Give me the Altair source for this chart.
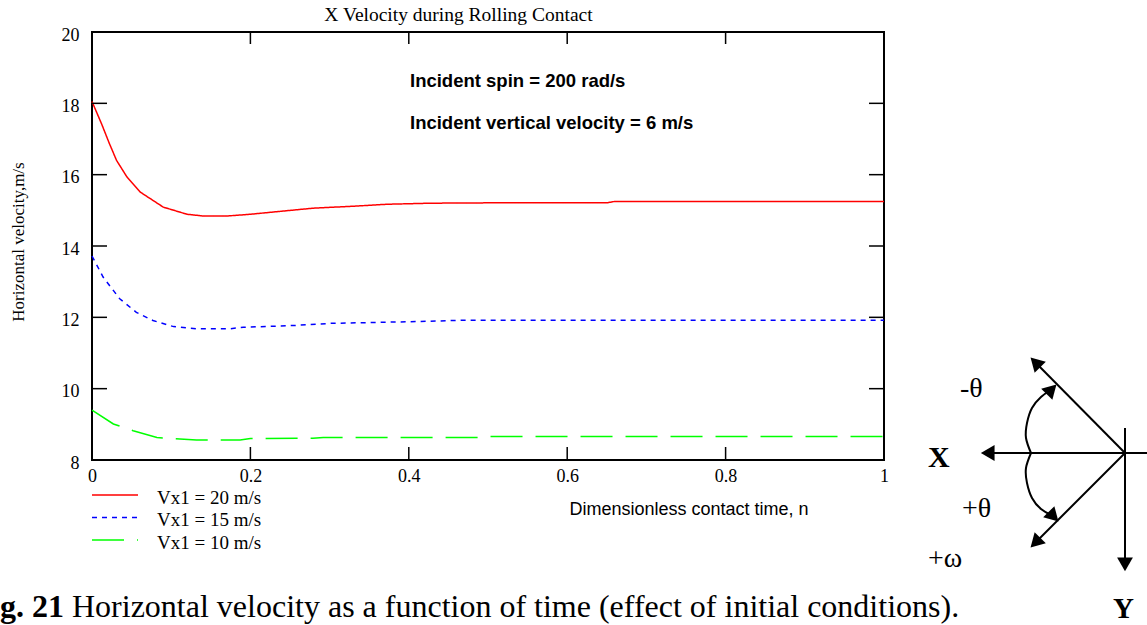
import altair as alt
import pandas as pd

W, H = 792, 428

# ---------------- data ----------------
red_x = [0, 0.012, 0.022, 0.031, 0.044, 0.061, 0.09, 0.12, 0.141, 0.17, 0.2, 0.237,
         0.279, 0.334, 0.372, 0.427, 0.5, 0.6, 0.65, 0.66, 0.8, 1.0]
red_y = [18.05, 17.43, 16.87, 16.40, 15.94, 15.51, 15.09, 14.89, 14.84, 14.84, 14.89,
         14.97, 15.06, 15.12, 15.17, 15.20, 15.21, 15.21, 15.21, 15.25, 15.25, 15.25]

blue_x = [0, 0.014, 0.035, 0.056, 0.077, 0.103, 0.132, 0.174, 0.191, 0.254, 0.30,
          0.427, 0.47, 0.6, 0.8, 1.0]
blue_y = [13.72, 13.13, 12.52, 12.14, 11.91, 11.74, 11.68, 11.68, 11.72, 11.77, 11.83,
          11.89, 11.92, 11.92, 11.92, 11.92]

green_x = [0, 0.027, 0.052, 0.082, 0.132, 0.187, 0.2, 0.279, 0.292, 0.49, 0.5, 1.0]
green_y = [9.40, 9.01, 8.82, 8.63, 8.56, 8.56, 8.60, 8.61, 8.63, 8.63, 8.66, 8.66]

series_names = ["Vx1 = 20 m/s", "Vx1 = 15 m/s", "Vx1 = 10 m/s"]
series_colors = ["#ff0000", "#0000ff", "#00ff00"]
series_dash = [[1, 0], [5, 5], [32, 13]]

x_ticks = [0, 0.2, 0.4, 0.6, 0.8, 1.0]
y_ticks = [8, 10, 12, 14, 16, 18, 20]

title_text = "X Velocity during Rolling Contact"
ytitle_text = "Horizontal velocity,m/s"
xtitle_text = "Dimensionless contact time, n"
annot_lines = ["Incident spin = 200 rad/s", "Incident vertical velocity = 6 m/s"]
caption_bold = "g. 21"
caption_rest = "Horizontal velocity as a function of time (effect of initial conditions)."

# diagram (coordinates relative to axis origin, in diagram units)
diag_seg = ["h", "h", "v", "v", "d1", "d1", "d2", "d2",
            "c1", "c1", "c1", "c1", "c1", "c1",
            "c2", "c2", "c2", "c2", "c2", "c2"]
diag_x = [-138, 22, 0, 0, 0, -90, 0, -90,
          -94, -99, -98, -93, -84, -76,
          -94, -99, -98, -93, -84, -74]
diag_y = [0, 0, -25, 110, 0, -91, 0, 90,
          0, -15, -30, -45, -56, -62,
          0, 15, 30, 45, 56, 62]
head_x = [-135, 0, -88, -88, -75, -73]
head_y = [0, 109, -89, 88, -62, 62]
head_angle = [270, 180, 315, 225, 45, 135]
dlabel_text = ["X", "Y", "-θ", "+θ", "+ω"]
dlabel_x = [-197, -12, -165, -163, -197]
dlabel_y = [14, 165, -56, 64, 114]
dlabel_weight = ["bold", "bold", "normal", "normal", "normal"]
dlabel_size = [30, 29, 28, 28, 28]

SERIF = "Liberation Serif"
SANS = "Liberation Sans"

xscale = alt.Scale(domain=[0, 1], nice=False, zero=False)
yscale = alt.Scale(domain=[8, 20], nice=False, zero=False)

xaxis = alt.Axis(values=x_ticks, format="~g", labelFont=SERIF, labelFontSize=18,
                 labelColor="black", ticks=False, domain=False, grid=False,
                 title=None, labelPadding=7, labelFlush=False)
yaxis = alt.Axis(values=y_ticks, format="d", labelFont=SERIF, labelFontSize=18,
                 labelColor="black", ticks=False, domain=False, grid=False,
                 title=None, labelPadding=13, labelOffset=3)

layers = []
for name, xs, ys, col, dash in zip(series_names, [red_x, blue_x, green_x],
                                   [red_y, blue_y, green_y], series_colors, series_dash):
    df = pd.DataFrame({"x": xs, "y": ys, "s": name})
    layers.append(
        alt.Chart(df).mark_line(color=col, strokeWidth=1.5, strokeDash=dash).encode(
            x=alt.X("x:Q", scale=xscale, axis=xaxis),
            y=alt.Y("y:Q", scale=yscale, axis=yaxis),
        )
    )

# inner ticks on four sides
xt = pd.DataFrame({"x": x_ticks})
yt = pd.DataFrame({"y": y_ticks})
tick_style = dict(color="black", strokeWidth=1.5)
layers.append(alt.Chart(xt).mark_rule(**tick_style).encode(
    x=alt.X("x:Q", scale=xscale, axis=xaxis), y=alt.value(H), y2=alt.value(H - 13)))
layers.append(alt.Chart(xt).mark_rule(**tick_style).encode(
    x=alt.X("x:Q", scale=xscale, axis=xaxis), y=alt.value(0), y2=alt.value(12)))
layers.append(alt.Chart(yt).mark_rule(**tick_style).encode(
    y=alt.Y("y:Q", scale=yscale, axis=yaxis), x=alt.value(0), x2=alt.value(15)))
layers.append(alt.Chart(yt).mark_rule(**tick_style).encode(
    y=alt.Y("y:Q", scale=yscale, axis=yaxis), x=alt.value(W), x2=alt.value(W - 15)))

one = pd.DataFrame({"k": [0]})


def text(t, x, y, **kw):
    return alt.Chart(one).mark_text(text=t, **kw).encode(x=alt.value(x), y=alt.value(y))


layers.append(text(title_text, 366.5, -17, font=SERIF, fontSize=19.5, align="center",
                   baseline="middle", color="black"))
layers.append(text(ytitle_text, -73.5, 210, font=SERIF, fontSize=17, angle=270,
                   align="center", baseline="middle", color="black"))
layers.append(text(xtitle_text, 597, 478, font=SANS, fontSize=18, align="center",
                   baseline="middle", color="black"))
for i, line in enumerate(annot_lines):
    layers.append(text(line, 318, 49 + 42 * i, font=SANS, fontSize=18.5, fontWeight="bold",
                       align="left", baseline="middle", color="black"))

# legend
for i, (name, col, dash) in enumerate(zip(series_names, series_colors, series_dash)):
    yy = 463 + 22.5 * i
    layers.append(alt.Chart(one).mark_rule(color=col, strokeWidth=1.5, strokeDash=dash).encode(
        x=alt.value(0), x2=alt.value(46), y=alt.value(yy)))
    layers.append(text(name, 65, yy + 2.5, font=SERIF, fontSize=19, align="left",
                       baseline="middle", color="black"))

# caption
layers.append(text(caption_bold, -92, 585, font=SERIF, fontSize=32, fontWeight="bold",
                   align="left", baseline="alphabetic", color="black"))
layers.append(text(caption_rest, -20, 585, font=SERIF, fontSize=32,
                   align="left", baseline="alphabetic", color="black"))

main = alt.layer(*layers)

# ---------------- diagram ----------------
dxs = alt.Scale(domain=[-100, 0], range=[933, 1033], nice=False, zero=False)
dys = alt.Scale(domain=[0, 100], range=[421, 521], nice=False, zero=False)

seg_df = pd.DataFrame({"seg": diag_seg, "dx": diag_x, "dy": diag_y,
                       "o": list(range(len(diag_x)))})
straight = seg_df[seg_df.seg.isin(["h", "v", "d1", "d2"])]
curved = seg_df[seg_df.seg.isin(["c1", "c2"])]

d_lines = alt.Chart(straight).mark_line(color="black", strokeWidth=2).encode(
    x=alt.X("dx:Q", scale=dxs, axis=None), y=alt.Y("dy:Q", scale=dys, axis=None),
    detail="seg:N", order="o:Q")
d_curves = alt.Chart(curved).mark_line(color="black", strokeWidth=2,
                                       interpolate="natural").encode(
    x=alt.X("dx:Q", scale=dxs, axis=None), y=alt.Y("dy:Q", scale=dys, axis=None),
    detail="seg:N", order="o:Q")
heads = alt.Chart(pd.DataFrame({"dx": head_x, "dy": head_y, "a": head_angle})).mark_point(
    shape="triangle", filled=True, color="black", opacity=1, size=250).encode(
    x=alt.X("dx:Q", scale=dxs, axis=None), y=alt.Y("dy:Q", scale=dys, axis=None),
    angle=alt.Angle("a:Q", scale=None))
lab_df = pd.DataFrame({"t": dlabel_text, "dx": dlabel_x, "dy": dlabel_y})
d_labels = []
for i in range(len(dlabel_text)):
    sub = lab_df.iloc[[i]]
    d_labels.append(alt.Chart(sub).mark_text(font=SERIF, fontSize=dlabel_size[i],
                                             fontWeight=dlabel_weight[i], color="black",
                                             align="left", baseline="alphabetic").encode(
        x=alt.X("dx:Q", scale=dxs, axis=None), y=alt.Y("dy:Q", scale=dys, axis=None),
        text="t:N"))

diagram = alt.layer(d_lines, d_curves, heads, *d_labels)

chart = alt.layer(main, diagram).resolve_scale(x="independent", y="independent").properties(
    width=W, height=H,
    autosize=alt.AutoSizeParams(type="none"),
    padding={"left": 92, "top": 32, "right": 1147 - 92 - W, "bottom": 625 - 32 - H},
    background="white",
).configure_view(stroke="black", strokeWidth=2)

chart.save("out.html", embed_options={"renderer": "svg", "actions": False})
